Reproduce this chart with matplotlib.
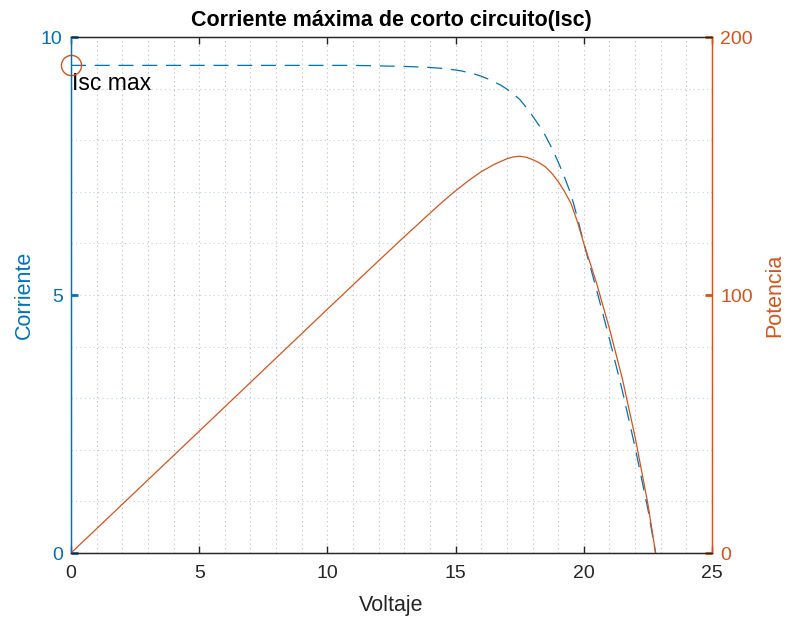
import matplotlib
matplotlib.use("Agg")
import matplotlib.pyplot as plt
from matplotlib.ticker import MultipleLocator

# Data
volt_i = [0, 2, 4, 6, 8, 10, 11, 12, 13, 14, 14.5, 15, 15.25, 15.5, 15.75, 16, 16.25,
          16.5, 16.75, 17, 17.25, 17.5, 17.75, 18, 18.25, 18.5, 18.75, 19, 19.25,
          19.5, 19.75, 20, 20.5, 21, 21.5, 22, 22.5, 22.8]
corriente = [9.45, 9.45, 9.45, 9.45, 9.45, 9.45, 9.45, 9.44, 9.43, 9.41, 9.39, 9.36,
             9.34, 9.31, 9.28, 9.24, 9.19, 9.13, 9.07, 8.99, 8.90, 8.79, 8.64, 8.47,
             8.29, 8.09, 7.85, 7.58, 7.28, 6.95, 6.50, 6.00, 5.10, 4.15, 3.15, 2.05,
             0.85, 0.0]
volt_p = [0, 5, 10, 12, 13, 14, 14.5, 15, 15.5, 16, 16.5, 17, 17.25, 17.5, 17.75, 18,
          18.25, 18.5, 18.75, 19, 19.25, 19.5, 19.75, 20, 20.5, 21, 21.5, 22, 22.5, 22.8]
potencia = [0, 47.2, 94.5, 113.3, 122.6, 131.7, 136.2, 140.4, 144.3, 147.8, 150.6,
            152.8, 153.5, 153.8, 153.4, 152.5, 151.3, 149.7, 147.2, 144.0, 140.1,
            135.5, 128.4, 120.0, 104.5, 87.0, 67.7, 45.0, 19.0, 0]
isc_point = (0, 9.45)
xticks = [0, 5, 10, 15, 20, 25]
yticks_left = [0, 5, 10]
yticks_right = [0, 100, 200]

BLUE = (0, 0.447, 0.741)
ORANGE = (0.85, 0.325, 0.098)
DARK = (0.15, 0.15, 0.15)

plt.rcParams['font.family'] = ['Liberation Sans', 'DejaVu Sans']

fig = plt.figure(figsize=(7.89, 6.2), dpi=100)
ax = fig.add_axes([71/789, 1-553/620, (712-71)/789, (553-37)/620])
ax2 = ax.twinx()

ax.set_xlim(0, 25)
ax.set_ylim(0, 10)
ax2.set_ylim(0, 200)
ax.set_xticks(xticks)
ax.set_yticks(yticks_left)
ax2.set_yticks(yticks_right)
ax.xaxis.set_minor_locator(MultipleLocator(1))
ax.yaxis.set_minor_locator(MultipleLocator(1))

# grid
ax.grid(True, axis='x', which='both', color=(0.15, 0.15, 0.15), alpha=0.3,
        linestyle=(0, (1, 3)), linewidth=0.8)
ax.grid(True, axis='y', which='both', color=BLUE, alpha=0.3,
        linestyle=(0, (1, 3)), linewidth=0.8)
ax.tick_params(which='minor', length=0)
ax2.tick_params(which='minor', length=0)
ax.set_axisbelow(True)

# data lines
ax.plot(volt_i, corriente, color=BLUE, linewidth=0.9, linestyle=(0, (12, 7)))
ax2.plot(volt_p, potencia, color=ORANGE, linewidth=0.9)
ax.plot([isc_point[0]], [isc_point[1]], marker='o', markersize=14.5,
        markerfacecolor='none', markeredgecolor=ORANGE, markeredgewidth=1.0,
        clip_on=False, zorder=5)
ax.text(isc_point[0] + 0.02, isc_point[1] - 0.36, 'Isc max', fontsize=16.5,
        color='black', va='center', ha='left')

# spines and ticks
for s in ('top', 'bottom'):
    ax.spines[s].set_color(DARK)
    ax2.spines[s].set_color(DARK)
ax2.spines['left'].set_color(BLUE)
ax2.spines['right'].set_color(ORANGE)
ax.spines['left'].set_color(BLUE)
ax.spines['right'].set_color(ORANGE)
for s in ax2.spines.values():
    s.set_linewidth(1.0)

ax.tick_params(axis='x', which='major', direction='in', length=5, width=1,
               color=DARK, labelcolor=DARK, labelsize=14, top=True, pad=9)
ax.tick_params(axis='y', which='major', direction='in', length=5, width=2,
               color=BLUE, labelcolor=BLUE, labelsize=14, pad=6)
ax2.tick_params(axis='y', which='major', direction='in', length=5, width=2,
                color=ORANGE, labelcolor=ORANGE, labelsize=14, pad=6)

ax.set_xlabel('Voltaje', fontsize=15.5, color=DARK, labelpad=9)
ax.set_ylabel('Corriente', fontsize=15.5, color=BLUE, labelpad=4)
ax2.set_ylabel('Potencia', fontsize=15.5, color=ORANGE, labelpad=8)
ax.set_title('Corriente máxima de corto circuito(Isc)', fontsize=15.5,
             fontweight='bold', color='black', pad=8)

fig.savefig('out.png', dpi=100)
